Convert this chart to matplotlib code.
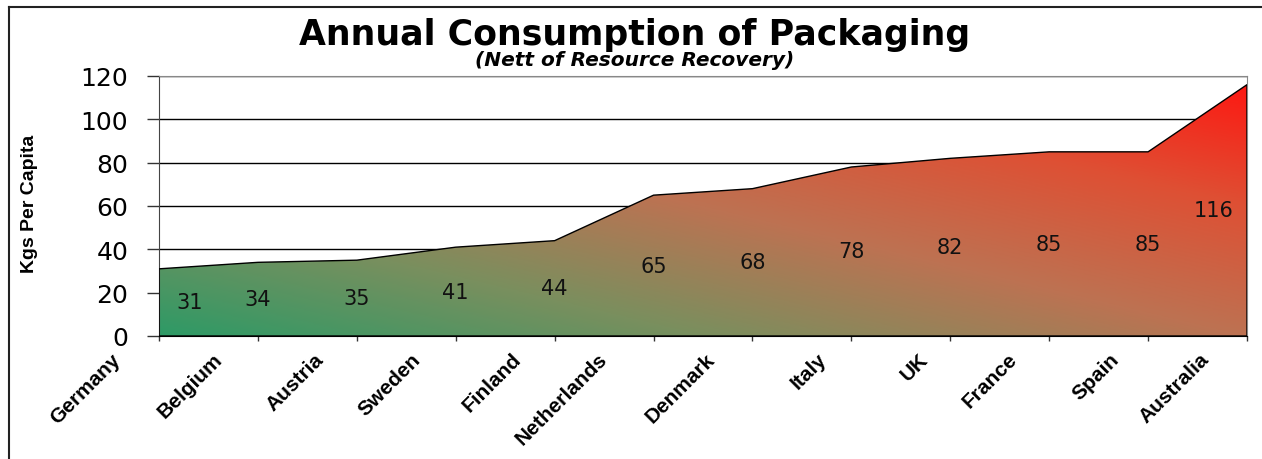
import matplotlib
matplotlib.use("Agg")
import matplotlib.pyplot as plt
import numpy as np
from matplotlib.colors import LinearSegmentedColormap
from matplotlib.lines import Line2D

# --- data ---
countries = ["Germany", "Belgium", "Austria", "Sweden", "Finland", "Netherlands",
             "Denmark", "Italy", "UK", "France", "Spain", "Australia"]
kgs = [31, 34, 35, 41, 44, 65, 68, 78, 82, 85, 85, 116]
yticks = [0, 20, 40, 60, 80, 100, 120]

W, H = 1262, 460
fig = plt.figure(figsize=(W / 100, H / 100), dpi=100)
ax = fig.add_axes([159 / W, 1 - 337 / H, (1247 - 159) / W, (337 - 77) / H])

x = np.arange(len(countries))

# area outline + gradient fill clipped to it
poly = ax.fill_between(x, kgs, 0, facecolor="none", edgecolor="black", lw=1.0, zorder=3)
cmap = LinearSegmentedColormap.from_list(
    "grnred", [(0.0, "#2e9a66"), (0.25, "#7a8f5e"), (0.5, "#bd7252"),
               (0.75, "#de5034"), (1.0, "#ff1510")])
xn = np.linspace(0, 1, 400)
yn = np.linspace(0, 1, 200)
grad = (xn[None, :] + yn[:, None]) / 2
im = ax.imshow(grad, extent=(0, len(countries) - 1, 0, 120), origin="lower",
               aspect="auto", cmap=cmap, vmin=0, vmax=1, zorder=2,
               interpolation="bilinear")
im.set_clip_path(poly.get_paths()[0], transform=ax.transData)

ax.set_xlim(0, len(countries) - 1)
ax.set_ylim(0, 120)

# grid + spines
ax.set_yticks(yticks)
ax.yaxis.grid(True, color="black", lw=1.0, zorder=1)
ax.set_axisbelow(True)
for s in ("top", "right"):
    ax.spines[s].set_color("#888888")
ax.spines["left"].set_color("#444444")
ax.spines["bottom"].set_color("black")
ax.spines["bottom"].set_zorder(4)

ax.tick_params(axis="y", direction="out", length=8.6, width=1, color="#333333",
               pad=13.5, labelsize=18)
for lab in ax.get_yticklabels():
    lab.set_fontfamily("DejaVu Sans")
ax.set_xticks(x)
ax.set_xticklabels([])
ax.tick_params(axis="x", direction="out", length=3.6, width=1, color="#333333")

# value labels in middle of area
for i, v in enumerate(kgs):
    dx = 0
    if i == 0:
        dx = 22
    elif i == len(kgs) - 1:
        dx = -24
    ax.annotate(str(v), (i, v / 2), xytext=(dx, 0), textcoords="offset points",
                ha="center", va="center", fontsize=15, color="#111111",
                family="DejaVu Sans", zorder=5)

# rotated category labels
cats = []
for i, c in enumerate(countries):
    t = ax.annotate(c, (i, 0), xytext=(-6, -9.5), textcoords="offset points",
                    rotation=45, ha="right", va="top", rotation_mode="default",
                    fontsize=15, fontweight="bold", family="Liberation Sans",
                    annotation_clip=False)
    cats.append(t)

fig.canvas.draw()
r = fig.canvas.get_renderer()
for t in cats:
    w = t.get_window_extent(r).width
    t.xyann = (-(5 + 0.38 * w) * 0.72, -9.5)

# titles
fig.text(635 / W, 1 - 35 / H, "Annual Consumption of Packaging", ha="center",
         va="center", fontsize=25, fontweight="bold", family="DejaVu Sans")
fig.text(635 / W, 1 - 61 / H, "(Nett of Resource Recovery)", ha="center",
         va="center", fontsize=14.5, fontweight="bold", fontstyle="italic",
         family="DejaVu Sans")
fig.text(29 / W, 1 - 204 / H, "Kgs Per Capita", rotation=90, ha="center",
         va="center", fontsize=14, fontweight="bold", family="Liberation Sans")

# outer frame (left and top edges visible)
x0, y0 = 9 / W, 1 - 8 / H
fig.add_artist(Line2D([x0, x0], [-0.1, y0], color="#222222", lw=1.5))
fig.add_artist(Line2D([x0, 1.1], [y0, y0], color="#222222", lw=1.5))

fig.savefig("out.png", dpi=100)
